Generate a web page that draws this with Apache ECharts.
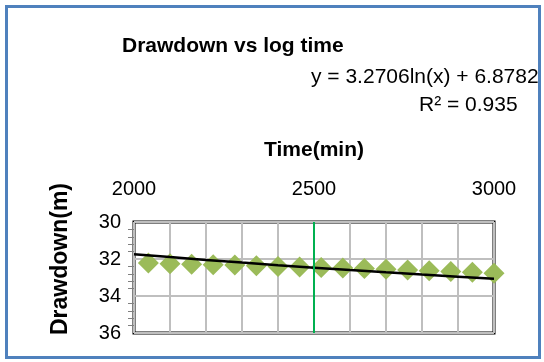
<!DOCTYPE html>
<html>
<head>
<meta charset="utf-8">
<script src="https://cdn.jsdelivr.net/npm/echarts@6/dist/echarts.min.js"></script>
<style>
  html, body { margin: 0; padding: 0; background: #fff; }
  #frame { position: absolute; left: 5px; top: 5px; width: 530px; height: 348px; border: 3px solid #4F81BD; }
  #chart { position: absolute; left: 0; top: 0; width: 544px; height: 362px; }
</style>
</head>
<body>
<div id="frame"></div>
<div id="chart"></div>
<script>
// Pumping test: drawdown readings against elapsed time
const timeMin = [2040, 2100, 2160, 2220, 2280, 2340, 2400, 2460, 2520, 2580, 2640, 2700, 2760, 2820, 2880, 2940, 3000];
const drawdown = [32.22, 32.26, 32.28, 32.31, 32.33, 32.37, 32.40, 32.43, 32.46, 32.49, 32.52, 32.56, 32.60, 32.64, 32.68, 32.72, 32.77];

// Logarithmic trendline y = a*ln(x) + b, as printed on the chart
const trendCoef = { a: 3.2706, b: 6.8782 };
const trendR2 = 0.935;
const trendX = [2000, 2100, 2200, 2300, 2400, 2500, 2600, 2700, 2800, 2900, 3000];

const xTickLabels = [2000, 2500, 3000];
const yTickLabels = [30, 32, 34, 36];

const FONT = 'Liberation Sans';

const chart = echarts.init(document.getElementById('chart'));
chart.setOption({
  animation: false,
  textStyle: { fontFamily: FONT },
  title: [
    { text: 'Drawdown vs log time', left: 117, top: 31,
      textStyle: { fontFamily: FONT, fontSize: 21, fontWeight: 'bold', color: '#000' } },
    { text: 'y = ' + trendCoef.a + 'ln(x) + ' + trendCoef.b, left: 306, top: 62,
      textStyle: { fontFamily: FONT, fontSize: 21, fontWeight: 'normal', color: '#000' } },
    { text: 'R² = ' + trendR2, left: 414, top: 90,
      textStyle: { fontFamily: FONT, fontSize: 21, fontWeight: 'normal', color: '#000' } }
  ],
  graphic: [
    { type: 'text', x: 61, y: 259, rotation: Math.PI / 2,
      style: { text: 'Drawdown(m)', fill: '#000', font: 'bold 23px "Liberation Sans"',
        textAlign: 'center', textVerticalAlign: 'middle' } }
  ],
  grid: { left: 134, right: 50, top: 222, bottom: 29, show: true, borderColor: '#000', borderWidth: 3, backgroundColor: 'transparent' },
  xAxis: {
    type: 'value', position: 'top', min: 2000, max: 3000, interval: 100,
    name: 'Time(min)', nameLocation: 'middle', nameGap: 61,
    nameTextStyle: { fontFamily: FONT, fontSize: 21, fontWeight: 'bold', color: '#000' },
    axisLine: { show: false },
    axisTick: { show: false },
    axisLabel: { margin: 23, fontSize: 20, color: '#000', fontFamily: FONT,
      formatter: v => (xTickLabels.indexOf(v) >= 0 ? String(v) : '') },
    splitLine: { show: true, lineStyle: { color: '#BFBFBF', width: 2 } }
  },
  yAxis: {
    type: 'value', inverse: true, min: 30, max: 36, interval: 2,
    axisLine: { show: false },
    axisTick: { show: false },
    minorTick: { show: true, splitNumber: 5, length: 6, lineStyle: { color: '#808080', width: 1 } },
    axisLabel: { margin: 13, fontSize: 20, color: '#000', fontFamily: FONT,
      formatter: v => (yTickLabels.indexOf(v) >= 0 ? String(v) : '') },
    splitLine: { show: true, lineStyle: { color: '#BFBFBF', width: 2 } }
  },
  series: [
    {
      type: 'scatter', symbol: 'diamond', symbolSize: 21,
      itemStyle: { color: '#9BBB59', opacity: 1 },
      data: timeMin.map((t, i) => [t, drawdown[i]]),
      markLine: {
        silent: true, symbol: 'none', label: { show: false },
        lineStyle: { color: '#00B050', width: 2, type: 'solid' },
        data: [{ xAxis: 2500 }]
      },
      z: 3
    },
    {
      type: 'line', showSymbol: false, smooth: false,
      lineStyle: { color: '#000', width: 2.5 },
      data: trendX.map(x => [x, trendCoef.a * Math.log(x) + trendCoef.b]),
      z: 4
    }
  ]
});
</script>
</body>
</html>
